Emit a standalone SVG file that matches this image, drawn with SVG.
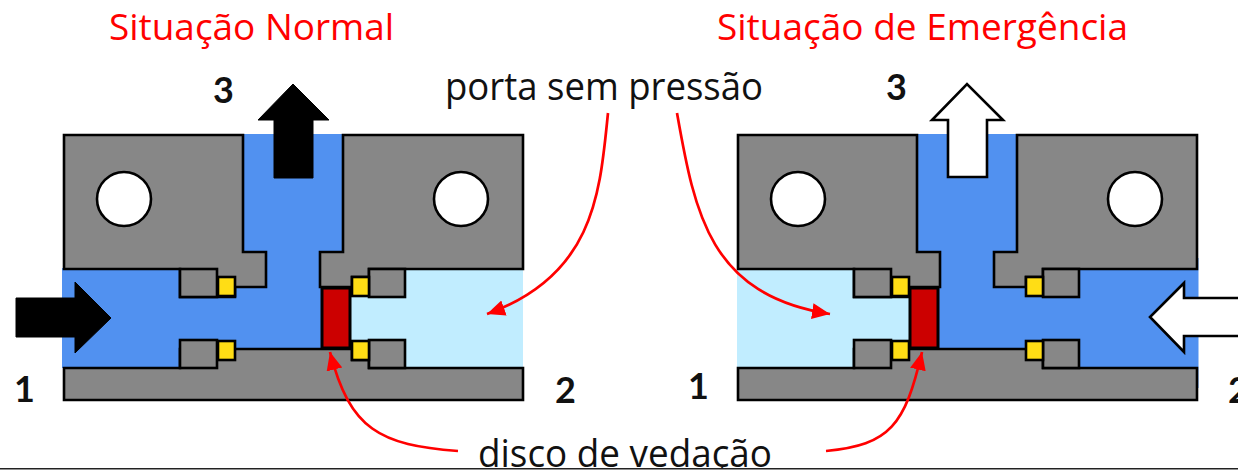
<svg xmlns="http://www.w3.org/2000/svg" width="1238" height="471" viewBox="0 0 1238 471">
<style>
.b{fill:#878787;stroke:#000;stroke-width:2.6;stroke-linejoin:miter}
.s{fill:#878787;stroke:#000;stroke-width:2.6}
.y{fill:#ffdd15;stroke:#000;stroke-width:2.6}
.r{fill:#cc0000;stroke:#000;stroke-width:3}
.h{fill:#fff;stroke:#000;stroke-width:2.6}
.t{font-family:"Open Sans","Lato",sans-serif;font-size:36px;fill:#ff0000}
.l{font-family:"Open Sans","Lato",sans-serif;font-size:38px;fill:#111}
.n{font-family:"Lato","Open Sans",sans-serif;font-size:36px;font-weight:700;fill:#111}
.c{fill:none;stroke:#ff0000;stroke-width:2.7}
</style>
<defs>
<marker id="ah" markerUnits="userSpaceOnUse" markerWidth="20" markerHeight="18" refX="18" refY="8" orient="auto"><path d="M0 0L18 8L0 16z" fill="#ff0000"/></marker>
</defs>
<rect width="1238" height="471" fill="#fff"/>
<g id="valve-normal">
<rect x="62" y="268" width="343" height="100" fill="#5191f0"/>
<rect x="243" y="134" width="100" height="215" fill="#5191f0"/>
<path d="M350 290H405V269H523V367H405V347H350z" fill="#c1edff"/>
<path class="b" d="M64 135H243V252H266V287H235V297H180V269H64z"/>
<path class="b" d="M523 135H343V252H320V287H352V277H369V269H523z"/>
<path class="b" d="M64 368H180V349H352V360H369V368H523V400H64z"/>
<rect class="s" x="180" y="269" width="37" height="28"/>
<rect class="s" x="180" y="340" width="37" height="28"/>
<rect class="y" x="218" y="277" width="17" height="19"/>
<rect class="y" x="218" y="341" width="17" height="19"/>
<rect class="s" x="369" y="269" width="36" height="28"/>
<rect class="s" x="369" y="340" width="36" height="28"/>
<rect class="y" x="352" y="277" width="17" height="19"/>
<rect class="y" x="352" y="341" width="17" height="19"/>
<rect class="r" x="322" y="288" width="28" height="60"/>
<circle class="h" cx="124" cy="199" r="27"/>
<circle class="h" cx="461" cy="199" r="27"/>
</g>
<g id="valve-emergency">
<rect x="737" y="268" width="175" height="100" fill="#c1edff"/>
<rect x="930" y="268" width="267" height="100" fill="#5191f0"/>
<rect x="1196" y="258" width="2.5" height="130" fill="#5191f0"/>
<rect x="917" y="134" width="100" height="215" fill="#5191f0"/>
<path class="b" d="M738 135H917V252H940V287H909V297H854V269H738z"/>
<path class="b" d="M1197 135H1017V252H994V287H1026V277H1043V269H1197z"/>
<path class="b" d="M738 368H854V349H1043V368H1197V400H738z"/>
<rect class="s" x="854" y="269" width="37" height="28"/>
<rect class="s" x="854" y="340" width="37" height="28"/>
<rect class="y" x="892" y="277" width="17" height="19"/>
<rect class="y" x="892" y="341" width="17" height="19"/>
<rect class="s" x="1043" y="269" width="36" height="28"/>
<rect class="s" x="1043" y="340" width="36" height="28"/>
<rect class="y" x="1026" y="277" width="17" height="19"/>
<rect class="y" x="1026" y="341" width="17" height="19"/>
<rect class="r" x="910" y="288" width="28" height="60"/>
<circle class="h" cx="798" cy="199" r="27"/>
<circle class="h" cx="1135" cy="199" r="27"/>
</g>
<g id="flow-arrows">
<path id="arrow-1" d="M16 298H75V282L111 318L75 353V337H16z" fill="#000" stroke="#000" stroke-width="1" stroke-linejoin="round"/>
<path id="arrow-3" d="M274 178V120H258L293 84L329 120H313V178z" fill="#000" stroke="#000" stroke-width="1" stroke-linejoin="round"/>
<path id="arrow-3b" d="M948 177V120H932L967 84L1003 120H987V177z" class="h"/>
<path id="arrow-2b" d="M1240 298H1184V283L1150 317L1184 352V336H1240z" class="h"/>
</g>
<g id="connectors">
<path class="c" marker-end="url(#ah)" d="M608 113C600 190 596 275 487 314"/>
<path class="c" marker-end="url(#ah)" d="M677 113C695 215 710 295 830 314"/>
<path class="c" marker-end="url(#ah)" d="M458 451C380 445 350 430 330 352"/>
<path class="c" marker-end="url(#ah)" d="M826 451C890 445 905 425 922 352"/>
</g>
<g id="labels">
<text class="t" x="109" y="40" textLength="285" lengthAdjust="spacingAndGlyphs">Situação Normal</text>
<text class="t" x="717" y="40" textLength="411" lengthAdjust="spacingAndGlyphs">Situação de Emergência</text>
<text class="l" x="445" y="100" textLength="318" lengthAdjust="spacingAndGlyphs">porta sem pressão</text>
<text class="l" x="478" y="467" textLength="294" lengthAdjust="spacingAndGlyphs">disco de vedação</text>
<text class="n" x="213" y="103">3</text>
<text class="n" x="886" y="100">3</text>
<text class="n" x="14" y="402">1</text>
<text class="n" x="688" y="399">1</text>
<text class="n" x="555" y="403">2</text>
<text class="n" x="1228" y="403">2</text>
</g>
<rect x="0" y="468" width="1238" height="3" fill="#fff"/>
<rect x="0" y="468" width="1238" height="1.5" fill="#222"/>
</svg>
